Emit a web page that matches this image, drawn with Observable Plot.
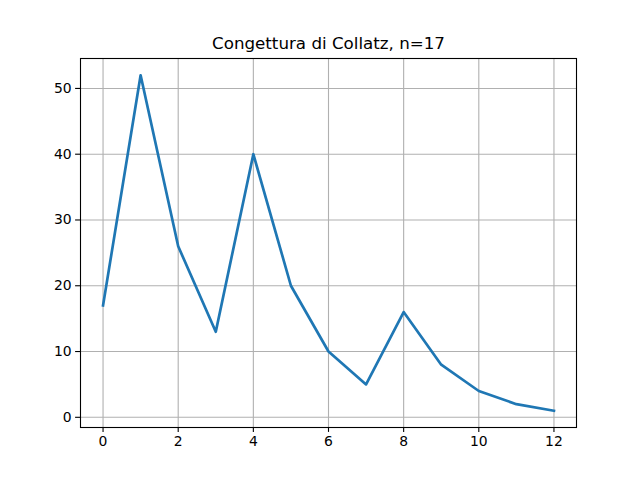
<!DOCTYPE html>
<html>
<head>
<meta charset="utf-8">
<script src="https://cdn.jsdelivr.net/npm/d3@7"></script>
<script src="https://cdn.jsdelivr.net/npm/@observablehq/plot@0.6"></script>
<style>
body { margin: 0; background: #fff; }
svg { font-family: "DejaVu Sans", sans-serif; }
</style>
</head>
<body>
<div id="chart"></div>
<script>
const steps = [0,1,2,3,4,5,6,7,8,9,10,11,12];
const values = [17,52,26,13,40,20,10,5,16,8,4,2,1];
const xTicks = [0,2,4,6,8,10,12];
const yTicks = [0,10,20,30,40,50];
const title = "Congettura di Collatz, n=17";

const data = steps.map((s, i) => ({step: s, value: values[i]}));

const chart = Plot.plot({
  width: 640,
  height: 480,
  marginLeft: 80,
  marginRight: 64,
  marginTop: 58,
  marginBottom: 53,
  style: {fontFamily: "DejaVu Sans, sans-serif", fontSize: "13.9px", background: "#fff", color: "#000"},
  x: {domain: [-0.6, 12.6], ticks: xTicks},
  y: {domain: [-1.55, 54.55], ticks: yTicks},
  marks: [
    Plot.ruleX(xTicks, {stroke: "#b0b0b0", strokeWidth: 1.1, strokeOpacity: 1}),
    Plot.ruleY(yTicks, {stroke: "#b0b0b0", strokeWidth: 1.1, strokeOpacity: 1}),
    Plot.line(data, {x: "step", y: "value", stroke: "#1f77b4", strokeWidth: 2.7, strokeLinejoin: "round", strokeLinecap: "square"}),
    Plot.frame({stroke: "#000", strokeWidth: 1.1}),
    Plot.axisX({ticks: xTicks, tickSize: 4.9, tickPadding: 4, label: null, fontSize: 13.9, stroke: "#000", strokeWidth: 1.1}),
    Plot.axisY({ticks: yTicks, tickSize: 4.9, tickPadding: 4, label: null, fontSize: 13.9, stroke: "#000", strokeWidth: 1.1}),
    Plot.text([title], {frameAnchor: "top", dy: -10, lineAnchor: "bottom", fontSize: 16.7, fill: "#000"})
  ]
});
document.getElementById("chart").appendChild(chart);
</script>
</body>
</html>
